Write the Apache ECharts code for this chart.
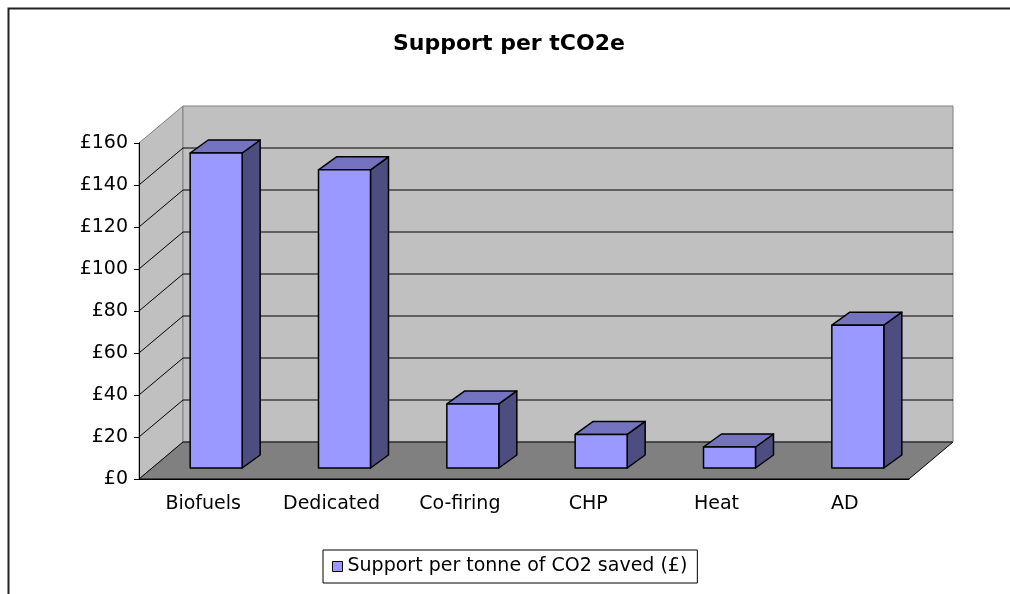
<!DOCTYPE html>
<html>
<head>
<meta charset="utf-8">
<script src="https://cdn.jsdelivr.net/npm/echarts@6.0.0/dist/echarts.min.js"></script>
<style>
  html, body { margin: 0; padding: 0; background: #fff; }
  #chart { width: 1010px; height: 594px; }
</style>
</head>
<body>
<div id="chart"></div>
<script>
// data
const categories = ['Biofuels', 'Dedicated', 'Co-firing', 'CHP', 'Heat', 'AD'];
const support = [150, 142, 30.5, 16, 10, 68];
const seriesName = 'Support per tonne of CO2 saved (£)';
const gridTicks = [20, 40, 60, 80, 100, 120, 140];

// 3d look, pixels
const WALL_DX = 44, WALL_DY = 37;   // depth of floor / side wall
const FACE_DX = 13, FACE_DY = 11;   // how far back the bar front sits
const BAR_DX = 18, BAR_DY = 13;     // depth of each bar
const FONT = '"DejaVu Sans", Verdana, sans-serif';

const chart = echarts.init(document.getElementById('chart'));

function renderWalls(params, api) {
    const cs = params.coordSys;
    const x0 = cs.x, x1 = cs.x + cs.width;
    const yb = cs.y + cs.height, yt = cs.y;
    const children = [
        { type: 'polygon', shape: { points: [[x0, yb], [x0, yt], [x0 + WALL_DX, yt - WALL_DY], [x0 + WALL_DX, yb - WALL_DY]] },
          style: { fill: '#c0c0c0', stroke: '#808080', lineWidth: 1 } },
        { type: 'polygon', shape: { points: [[x0 + WALL_DX, yb - WALL_DY], [x1 + WALL_DX, yb - WALL_DY], [x1 + WALL_DX, yt - WALL_DY], [x0 + WALL_DX, yt - WALL_DY]] },
          style: { fill: '#c0c0c0', stroke: '#808080', lineWidth: 1 } },
        { type: 'polygon', shape: { points: [[x0, yb], [x1, yb], [x1 + WALL_DX, yb - WALL_DY], [x0 + WALL_DX, yb - WALL_DY]] },
          style: { fill: '#808080', stroke: '#000', lineWidth: 1 } }
    ];
    gridTicks.forEach(function (t) {
        const y = api.coord([0, t])[1];
        children.push({ type: 'polyline',
            shape: { points: [[x0, y], [x0 + WALL_DX, y - WALL_DY], [x1 + WALL_DX, y - WALL_DY]] },
            style: { fill: null, stroke: '#000', lineWidth: 1 } });
    });
    return { type: 'group', children: children };
}

function renderBar(params, api) {
    const k = api.value(0);
    const base = api.coord([k, 0]);
    const top = api.coord([k, api.value(1)]);
    const bw = api.size([1, 0])[0] * 0.405;
    const xl = base[0] + FACE_DX - bw / 2, xr = xl + bw;
    const yb = base[1] - FACE_DY, yt = top[1] - FACE_DY;
    const line = { stroke: '#000', lineWidth: 1.5, lineJoin: 'round' };
    return {
        type: 'group',
        children: [
            { type: 'polygon', shape: { points: [[xr, yt], [xr + BAR_DX, yt - BAR_DY], [xr + BAR_DX, yb - BAR_DY], [xr, yb]] },
              style: Object.assign({ fill: '#4d4d80' }, line) },
            { type: 'polygon', shape: { points: [[xl, yt], [xr, yt], [xr + BAR_DX, yt - BAR_DY], [xl + BAR_DX, yt - BAR_DY]] },
              style: Object.assign({ fill: '#7373c0' }, line) },
            { type: 'rect', shape: { x: xl, y: yt, width: bw, height: yb - yt },
              style: Object.assign({ fill: '#9999ff' }, line) }
        ]
    };
}

chart.setOption({
    backgroundColor: '#fff',
    animation: false,
    title: {
        text: 'Support per tCO2e',
        left: 393, top: 33, padding: 0,
        textStyle: { fontFamily: FONT, fontSize: 22, fontWeight: 'bold', color: '#000' }
    },
    legend: {
        data: [seriesName],
        left: 323, top: 550,
        padding: [7, 10, 7, 9],
        borderColor: '#000', borderWidth: 1,
        icon: 'rect', itemWidth: 10, itemHeight: 10, itemGap: 0,
        textStyle: { fontFamily: FONT, fontSize: 19, color: '#000' },
        itemStyle: { borderColor: '#000', borderWidth: 1 }
    },
    grid: { left: 139, right: 101, top: 143, bottom: 115 },
    xAxis: {
        type: 'category',
        data: categories,
        z: 10,
        axisLine: { lineStyle: { color: '#000', width: 1 } },
        axisTick: { length: 7, lineStyle: { color: '#000' } },
        axisLabel: { fontFamily: FONT, fontSize: 19, color: '#000', margin: 16 }
    },
    yAxis: {
        type: 'value',
        min: 0, max: 160, interval: 20,
        z: 10,
        axisLine: { show: true, lineStyle: { color: '#000', width: 1 } },
        axisTick: { show: true, length: 5, lineStyle: { color: '#000' } },
        axisLabel: { fontFamily: FONT, fontSize: 19, color: '#000', margin: 11,
                     formatter: function (v) { return '£' + v; } },
        splitLine: { show: false }
    },
    series: [
        {
            name: 'walls', type: 'custom', z: 1, silent: true,
            data: [[0, 0]],
            renderItem: renderWalls
        },
        {
            name: seriesName, type: 'custom', z: 3,
            itemStyle: { color: '#9999ff' },
            encode: { x: 0, y: 1 },
            data: support.map(function (v, i) { return [i, v]; }),
            renderItem: renderBar
        }
    ],
    graphic: [
        { type: 'polyline', silent: true,
          shape: { points: [[8.5, 594], [8.5, 8.5], [1010, 8.5]] },
          style: { fill: null, stroke: '#222', lineWidth: 2 } }
    ]
});
</script>
</body>
</html>
